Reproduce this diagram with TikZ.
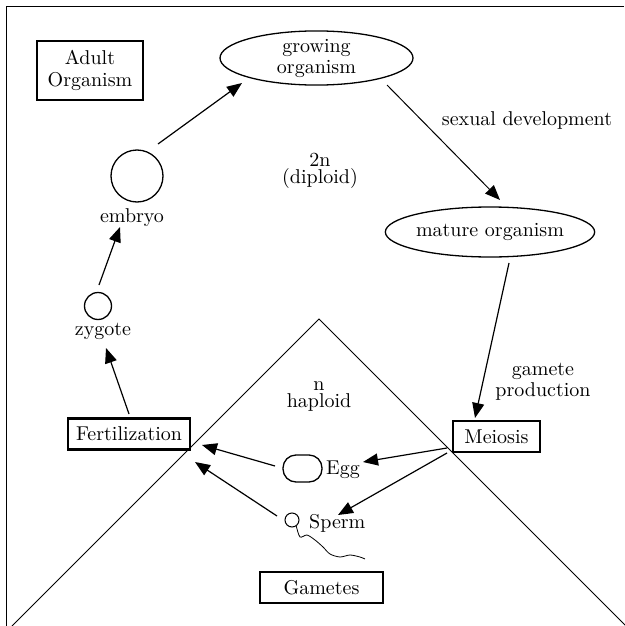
\documentclass[tikz,border=0pt]{standalone}
\usepackage{fontspec}
\setmainfont{lmroman10-regular.otf}
\usetikzlibrary{arrows.meta,shapes.geometric}
\begin{document}
\begin{tikzpicture}[x=1pt,y=-1pt,
  every node/.style={font=\fontsize{20}{22}\selectfont, inner sep=0pt},
  arr/.style={line width=1.2pt, -{Triangle[length=15pt,width=12pt]}},
  boxthin/.style={draw, line width=1.5pt, minimum width=106pt, minimum height=59pt, align=center},
  boxthick/.style={draw, line width=2.2pt, minimum height=31pt},
  oval/.style={draw, ellipse, line width=1.3pt, minimum width=193pt, minimum height=50pt, align=center},
  cell/.style={draw, circle, line width=1.3pt},
  thinline/.style={line width=1pt}]

\useasboundingbox (0,0) rectangle (624,626);
\draw[thinline] (624,7) -- (6,7) -- (6,626);
\draw[thinline] (12,626) -- (319,319) -- (626,626);

\node[boxthin] (adult) at (90,70.5) {Adult\\Organism};
\node[oval, font=\fontsize{20}{21}\selectfont] (grow) at (316.5,58) {growing\\organism};
\node[oval, minimum width=192pt] (mature) at (490,232) {mature organism};
\node[cell, minimum size=52pt] (embryo) at (137,176) {};
\node (embryolbl) at (132,218) {embryo};
\node[cell, minimum size=27pt] (zygote) at (98,306) {};
\node (zygotelbl) at (103,331) {zygote};
\node[boxthick, minimum width=122pt] (fert) at (129,434) {Fertilization};
\node[boxthick, minimum width=87pt] (meiosis) at (496.5,436.5) {Meiosis};
\node[boxthick, minimum width=123pt] (gametes) at (321.5,587.5) {Gametes};
\node[draw, line width=1.3pt, rounded corners=13pt, minimum width=39pt, minimum height=27pt] (egg) at (302.5,468.5) {};
\node[anchor=west] (egglbl) at (326,470) {Egg};
\node[cell, minimum size=14pt, line width=1pt] (sperm) at (292,520) {};
\node[anchor=west] (spermlbl) at (309,523) {Sperm};
\node (sexdev) at (527,120) {sexual development};
\node[align=center, font=\fontsize{20}{17}\selectfont] (diploid) at (320,171) {2n\\(diploid)};
\node[align=center, font=\fontsize{20}{17}\selectfont] (haploid) at (319,397) {n\\haploid};
\node[align=center, font=\fontsize{20}{21}\selectfont] (gprod) at (543,382) {gamete\\production};

\draw[line width=0.8pt] plot[smooth] coordinates {(sperm.-55) (300,537) (307,535) (315,540) (323,547) (330,554) (340,557) (350,555) (360,557) (365,559)};

\draw[arr] ([shift={(21,-32)}]embryo.center) -- ([shift={(-74.5,25)}]grow.center);
\draw[arr] ([shift={(1,-21)}]zygote.center) -- ([shift={(-12,9)}]embryolbl.center);
\draw[arr] ([shift={(0,-20)}]fert.center) -- ([shift={(3,17)}]zygotelbl.center);
\draw[arr] ([shift={(-27.5,-2.5)}]egg.center) -- ([shift={(73,11)}]fert.center);
\draw[arr] ([shift={(-15,-4)}]sperm.center) -- ([shift={(66,28)}]fert.center);
\draw[arr, line width=1pt] ([shift={(70.5,27)}]grow.center) -- ([shift={(10,-32)}]mature.center);
\draw[arr] ([shift={(19,31)}]mature.center) -- ([shift={(-21.5,-18.5)}]meiosis.center);
\draw[arr] ([shift={(-49.5,11.5)}]meiosis.center) -- ([shift={(60.5,-6.5)}]egg.center);
\draw[arr] ([shift={(-49.5,16.5)}]meiosis.center) -- ([shift={(46,-5)}]sperm.center);
\end{tikzpicture}
\end{document}
